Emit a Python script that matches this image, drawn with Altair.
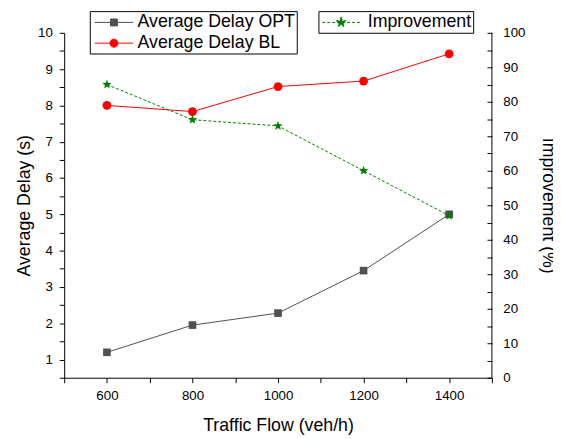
import math
import altair as alt
import pandas as pd

# ---------------- data ----------------
flow = [600, 800, 1000, 1200, 1400]
delay_opt = [1.20, 1.95, 2.28, 3.45, 5.00]
delay_bl = [8.00, 7.83, 8.52, 8.67, 9.42]
improvement = [85.0, 74.8, 73.0, 60.0, 47.0]

series_names = ["Average Delay OPT", "Average Delay BL"]
series_colors = ["#505050", "#ff0000"]
imp_name = "Improvement"
imp_color = "#008000"

x_ticks = list(range(500, 1501, 100))
left_ticks = [v / 2 for v in range(1, 21)]
right_ticks = list(range(0, 101, 5))

delay_df = pd.DataFrame({
    "flow": flow + flow,
    "delay": delay_opt + delay_bl,
    "series": [series_names[0]] * len(flow) + [series_names[1]] * len(flow),
})
imp_df = pd.DataFrame({"flow": flow, "imp": improvement, "series": [imp_name] * len(flow)})

FONT = "Liberation Sans"

# ---------------- symbol paths ----------------
def poly_path(points):
    s = "M%.3f,%.3f" % points[0]
    for p in points[1:]:
        s += "L%.3f,%.3f" % p
    return s + "Z"

def star_path(R, r):
    pts = []
    for k in range(10):
        ang = math.radians(-90 + 36 * k)
        rad = R if k % 2 == 0 else r
        pts.append((rad * math.cos(ang), rad * math.sin(ang)))
    return poly_path(pts)

def circle_path(r, n=16):
    return poly_path([(r * math.cos(2 * math.pi * k / n), r * math.sin(2 * math.pi * k / n)) for k in range(n)])

star_marker = star_path(1.0, 0.42)
# legend symbols: scale is sqrt(361)/2 = 9.5 px per unit
sq_path = "M-2.05,0H2.05M-0.37,-0.37H0.37V0.37H-0.37Z"
circ_path = "M-2.05,0H2.05" + circle_path(0.43)
star_leg_path = "M-2.0,0H2.0" + star_path(0.56, 0.23)

common_leg = dict(
    title=None, orient="none", direction="vertical",
    strokeColor="black", padding=1.5,
    labelFont=FONT, labelFontSize=18, labelColor="black", labelLimit=400,
    symbolSize=361, symbolOpacity=1, symbolStrokeWidth=1,
)
leg_delay = alt.Legend(legendX=26, legendY=-22, symbolOffset=13, labelOffset=14,
                       rowPadding=2, **common_leg)
leg_imp = alt.Legend(legendX=258, legendY=-22, symbolOffset=11.5, labelOffset=17,
                     symbolDash=[3, 2], **common_leg)

# ---------------- axes ----------------
x_axis = alt.Axis(
    title="Traffic Flow (veh/h)", values=x_ticks,
    labelExpr="datum.value % 200 === 0 ? '' + datum.value : ''",
    labelOverlap=False, labelFlush=False,
    tickSize=5, labelPadding=6, titlePadding=15,
)
y_axis = alt.Axis(
    title="Average Delay (s)", values=left_ticks, orient="left",
    labelExpr="datum.value % 1 === 0 ? '' + datum.value : ''",
    labelOverlap=False, labelFlush=False,
    tickSize=5, labelPadding=7, titlePadding=4,
)
r_axis = alt.Axis(
    title="Improvement (%)", values=right_ticks, orient="right",
    labelExpr="datum.value % 10 === 0 ? '' + datum.value : ''",
    labelOverlap=False, labelFlush=False, domain=False, offset=-5,
    tickSize=5, labelPadding=11, titlePadding=14,
)

x_enc = alt.X("flow:Q", scale=alt.Scale(domain=[500, 1500], nice=False, zero=False), axis=x_axis)
y_delay = alt.Y("delay:Q", scale=alt.Scale(domain=[0.5, 10], nice=False, zero=False), axis=y_axis)
y_imp = alt.Y("imp:Q", scale=alt.Scale(domain=[0, 100], nice=False, zero=False), axis=r_axis)

# ---- delay series (one line + marker layer per series) ----
marker_shapes = ["square", "circle"]
marker_sizes = [60, 80]
delay_parts = []
for name, col, shp, sz in zip(series_names, series_colors, marker_shapes, marker_sizes):
    base = alt.Chart(delay_df).transform_filter(alt.datum.series == name)
    delay_parts.append(base.mark_line(strokeWidth=1, color=col).encode(x=x_enc, y=y_delay))
    delay_parts.append(base.mark_point(filled=True, opacity=1, shape=shp, size=sz, color=col)
                       .encode(x=x_enc, y=y_delay))

# legend carrier (draws no marks; its legend comes from the explicit scale domains)
delay_legend = alt.Chart(delay_df).transform_filter("false").mark_point(
    filled=True, opacity=1, strokeWidth=1
).encode(
    x=x_enc, y=y_delay,
    color=alt.Color("series:N", scale=alt.Scale(domain=series_names, range=series_colors), legend=leg_delay),
    stroke=alt.Stroke("series:N", scale=alt.Scale(domain=series_names, range=series_colors), legend=leg_delay),
    shape=alt.Shape("series:N", scale=alt.Scale(domain=series_names, range=[sq_path, circ_path]), legend=leg_delay),
)
delay_layer = alt.layer(*delay_parts, delay_legend)

# ---- improvement series ----
imp_lines = alt.Chart(imp_df).mark_line(strokeWidth=1, strokeDash=[3, 2], color=imp_color).encode(
    x=x_enc, y=y_imp,
)
imp_points = alt.Chart(imp_df).mark_point(
    filled=True, opacity=1, shape=star_marker, size=100, color=imp_color
).encode(x=x_enc, y=y_imp)
imp_legend = alt.Chart(imp_df).transform_filter("false").mark_point(
    filled=True, opacity=1, strokeWidth=1
).encode(
    x=x_enc, y=y_imp,
    color=alt.Color("series:N", scale=alt.Scale(domain=[imp_name], range=[imp_color]), legend=leg_imp),
    stroke=alt.Stroke("series:N", scale=alt.Scale(domain=[imp_name], range=[imp_color]), legend=leg_imp),
    shape=alt.Shape("series:N", scale=alt.Scale(domain=[imp_name], range=[star_leg_path]), legend=leg_imp),
)
imp_layer = alt.layer(imp_lines, imp_points, imp_legend)

# right-hand axis line (ticks of that axis point inwards)
frame_df = pd.DataFrame({"k": [0]})
right_line = alt.Chart(frame_df).mark_rule(color="black", strokeWidth=1).encode(
    x=alt.value("width"), y=alt.value(0), y2=alt.value("height"),
)

chart = alt.layer(delay_layer, imp_layer, right_line).resolve_scale(
    y="independent", color="independent", shape="independent", stroke="independent"
).properties(
    width=434, height=350,
    autosize=alt.AutoSizeParams(type="none"),
    padding={"left": 57, "top": 22, "right": 62, "bottom": 59},
    background="white",
).configure_view(stroke=None).configure_axis(
    grid=False, domainColor="black", domainWidth=1, tickColor="black", tickWidth=1,
    labelFont=FONT, labelFontSize=13.5, labelColor="black",
    titleFont=FONT, titleFontSize=18, titleFontWeight="normal", titleColor="black",
)

chart.save("out.html", embed_options={"renderer": "svg", "actions": False})
